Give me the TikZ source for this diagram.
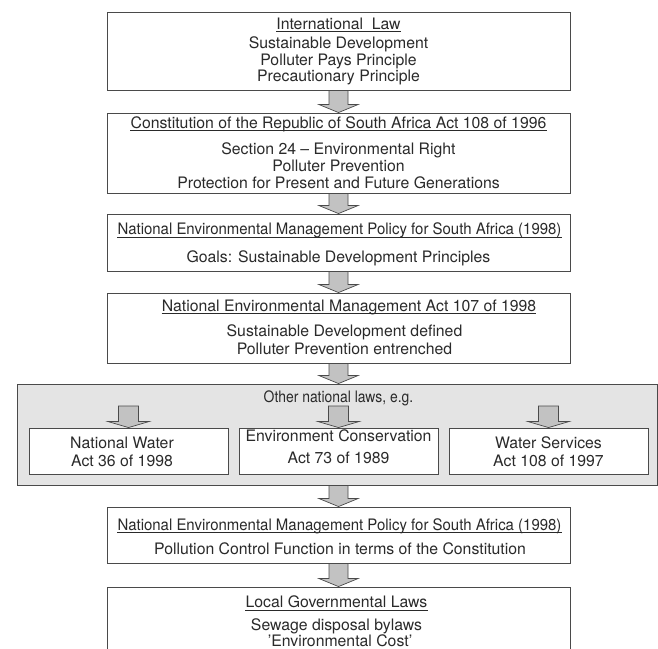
\documentclass[tikz,border=0pt]{standalone}
\usepackage{fontspec}
\usepackage{graphicx}
\setmainfont{TeX Gyre Heros}
\usetikzlibrary{calc}
\definecolor{inkc}{HTML}{2A2A2A}
\definecolor{edgec}{HTML}{4A4A4A}
\definecolor{panelc}{HTML}{E4E4E4}
\definecolor{arrc}{HTML}{C2C2C2}
\newcommand{\hs}[2]{\scalebox{#1}[1]{#2}}
% block arrow from (#1) bottom to (#2) top; #3 shaft half width, #4 head half width, #5 head height
\newcommand{\blockarrow}[5]{%
  \path (#1) coordinate (bA) (#2) coordinate (bB);
  \draw[arrowshape] ($(bA)+(-#3,0)$) -- ($(bA)+(#3,0)$) -- ($(bB)+(#3,-#5)$)
    -- ($(bB)+(#4,-#5)$) -- (bB) -- ($(bB)+(-#4,-#5)$) -- ($(bB)+(-#3,-#5)$) -- cycle;}
\tikzset{
  box/.style={draw=edgec, line width=0.9pt, fill=white, inner sep=0pt},
  panel/.style={draw=edgec, line width=0.9pt, fill=panelc, inner sep=0pt},
  txt/.style={inner sep=0pt, text=inkc, font=\fontsize{15.8}{17}\selectfont, anchor=base},
  ul/.style={draw=inkc, line width=0.8pt},
  arrowshape/.style={draw=edgec, line width=0.7pt, fill=arrc, line join=miter}
}
\begin{document}
\begin{tikzpicture}[x=1pt,y=-1pt]
\useasboundingbox (0,0) rectangle (658,648);
\clip (0,0) rectangle (658,648);
\fill[white] (0,0) rectangle (658,648);

% boxes
\node[box, minimum width=463, minimum height=78] (b1) at (338.5,51) {};
\node[box, minimum width=463, minimum height=80] (b2) at (338.5,153) {};
\node[box, minimum width=463, minimum height=57] (b3) at (338.5,242.5) {};
\node[box, minimum width=463, minimum height=70] (b4) at (338.5,328) {};
\node[panel, minimum width=640, minimum height=101] (p5) at (337,434.5) {};
\node[box, minimum width=199, minimum height=46] (s1) at (128.5,451) {};
\node[box, minimum width=199, minimum height=46] (s2) at (338.5,451) {};
\node[box, minimum width=199, minimum height=46] (s3) at (548.5,451) {};
\node[box, minimum width=463, minimum height=56] (b6) at (338.5,535) {};
\node[box, minimum width=463, minimum height=90] (b7) at (338.5,632) {};

% texts box 1
\node[txt] (b1t) at (338.5,29) {International\ \ Law};
\node[txt] (b1a) at (338.5,48) {Sustainable Development};
\node[txt] (b1b) at (338.5,65) {Polluter Pays Principle};
\node[txt] (b1c) at (338.5,81.5) {Precautionary Principle};
% box 2
\node[txt] (b2t) at (338.5,128) {Constitution of the Republic of South Africa Act 108 of 1996};
\node[txt] (b2a) at (338.5,154) {Section 24 -- Environmental Right};
\node[txt] (b2b) at (338.5,171) {Polluter Prevention};
\node[txt] (b2c) at (338.5,188) {Protection for Present and Future Generations};
% box 3
\node[txt] (b3t) at (339.5,234.5) {\hs{0.947}{National Environmental Management Policy for South Africa (1998)}};
\node[txt] (b3a) at (338.5,262) {Goals: Sustainable Development Principles};
% box 4
\node[txt] (b4t) at (349,311) {National Environmental Management Act 107 of 1998};
\node[txt] (b4a) at (344.5,336) {Sustainable Development defined};
\node[txt] (b4b) at (344.5,354) {Polluter Prevention entrenched};
% panel
\node[txt] (p5t) at (338.5,402) {\hs{0.88}{Other national laws, e.g.}};
\node[txt] (s1a) at (122,448) {National Water};
\node[txt] (s1b) at (122,466) {Act 36 of 1998};
\node[txt] (s2a) at (338.5,441) {Environment Conservation};
\node[txt] (s2b) at (338.5,463) {Act 73 of 1989};
\node[txt] (s3a) at (548.5,448) {Water Services};
\node[txt] (s3b) at (548.5,466) {Act 108 of 1997};
% box 6
\node[txt] (b6t) at (339.5,530) {\hs{0.947}{National Environmental Management Policy for South Africa (1998)}};
\node[txt] (b6a) at (340,554) {Pollution Control Function in terms of the Constitution};
% box 7
\node[txt] (b7t) at (336.5,607.5) {Local Governmental Laws};
\node[txt] (b7a) at (336.5,630) {Sewage disposal bylaws};
\node[txt] (b7b) at (340,646) {'Environmental Cost'};

% underlines
\foreach \n in {b1t,b2t,b3t,b4t,b6t,b7t}{
  \draw[ul] ([yshift=-2.6pt]\n.base west) -- ([yshift=-2.6pt]\n.base east);
}

% main arrows
\blockarrow{b1.south}{b2.north}{9.5}{19.5}{8}
\blockarrow{b2.south}{b3.north}{9.5}{19.5}{8}
\blockarrow{b3.south}{b4.north}{9.5}{19.5}{8}
\blockarrow{b4.south}{p5.north -| b4.south}{9.5}{19.5}{8}
\blockarrow{p5.south -| b6.north}{b6.north}{9.5}{19.5}{8}
\blockarrow{b6.south}{b7.north}{9.5}{19.5}{8}

% panel arrows
\coordinate (q1) at (128.5,406);
\coordinate (q2) at (338.5,406);
\coordinate (q3) at (548.5,406);
\blockarrow{q1}{s1.north}{10}{20.5}{6}
\blockarrow{q2}{s2.north}{10}{20.5}{6}
\blockarrow{q3}{s3.north}{10}{20.5}{6}
\end{tikzpicture}
\end{document}
